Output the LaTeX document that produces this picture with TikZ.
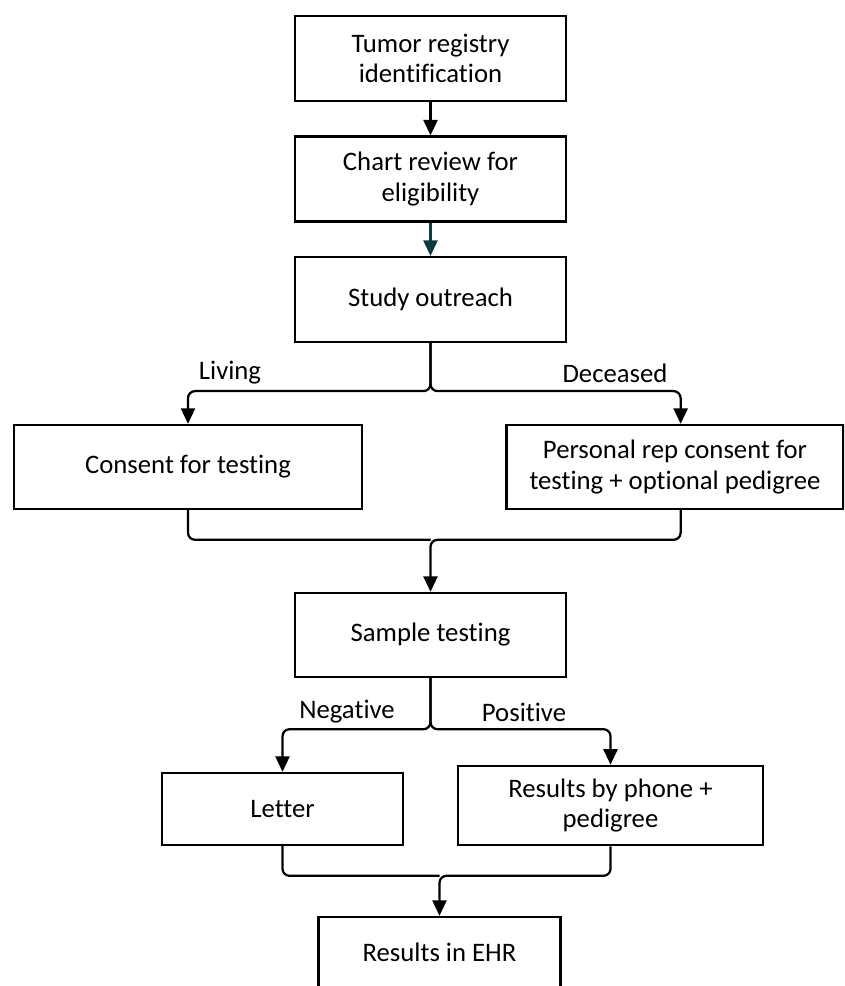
\documentclass[tikz,border=0pt]{standalone}
\usepackage{fontspec}
\setmainfont{Carlito}[Ligatures=NoCommon]
\usepackage{tikz}
\usetikzlibrary{positioning, arrows.meta, calc}
\definecolor{ink}{HTML}{000000}
\definecolor{tealink}{HTML}{0B3C3D}

\begin{document}
\begin{tikzpicture}[
    x=0.025cm, y=-0.025cm,
    every node/.style={font=\fontsize{19}{21.5}\selectfont, text=ink},
    stepbox/.style={
      draw=ink, fill=white, line width=1.7pt, align=center,
      minimum width=6.78cm, minimum height=2.12cm
    },
    link/.style={draw=ink, line width=1.6pt, rounded corners=5pt},
    arrow/.style={link, -{Triangle[length=11pt, width=10pt]}}
]
  \fill[white] (0,0) rectangle (844,986);
  \useasboundingbox (0,0) rectangle (844,986);
  \clip (0,0) rectangle (844,986);

  % main column
  \node[stepbox] (tumor) at (430.5,58.5) {Tumor registry\\identification};
  \node[stepbox] (chart) at (430.5,179) {Chart review for\\eligibility};
  \node[stepbox] (outreach) at (430.5,299.5) {Study outreach};

  % living / deceased
  \node[stepbox, minimum width=8.7cm, minimum height=2.1cm] (consent) at (188,467) {Consent for testing};
  \node[stepbox, minimum width=8.43cm, minimum height=2.1cm] (repconsent) at (675,467) {Personal rep consent for\\testing + optional pedigree};

  \node[stepbox, minimum height=2.1cm] (sample) at (430.5,635) {Sample testing};

  % negative / positive
  \node[stepbox, minimum width=6.03cm, minimum height=1.8cm] (letter) at (282.5,809) {Letter};
  \node[stepbox, minimum width=7.63cm, minimum height=1.98cm] (phone) at (610.5,805.5) {Results by phone +\\pedigree};

  \node[stepbox, minimum width=6.05cm, minimum height=1.75cm] (ehr) at (439.5,952) {Results in EHR};

  \coordinate (split1) at ($(outreach.south)+(0,48)$);
  \coordinate (merge1) at ($(sample.north)+(0,-52)$);
  \coordinate (split2) at ($(sample.south)+(0,51)$);
  \coordinate (merge2) at ($(ehr.north)+(0,-40)$);

  \draw[arrow] (tumor) -- (chart);
  \draw[arrow, draw=tealink] (chart) -- (outreach);

  \draw[arrow] (outreach.south) -- (split1) -| (consent.north);
  \draw[arrow] (outreach.south) -- (split1) -| ([xshift=4pt]repconsent.north);
  \draw[link] (consent.south) |- (merge1);
  \draw[arrow] ([xshift=4pt]repconsent.south) |- (merge1) -- (sample.north);

  \draw[arrow] (sample.south) -- (split2) -| (letter.north);
  \draw[arrow] (sample.south) -- (split2) -| (phone.north);
  \draw[link] (letter.south) |- (merge2);
  \draw[arrow] (phone.south) |- (merge2) -- (ehr.north);

  \node (living) at (230,373) {Living};
  \node (deceased) at (615,373) {Deceased};
  \node (negative) at (347,712) {Negative};
  \node (positive) at (524,712) {Positive};
\end{tikzpicture}
\end{document}
